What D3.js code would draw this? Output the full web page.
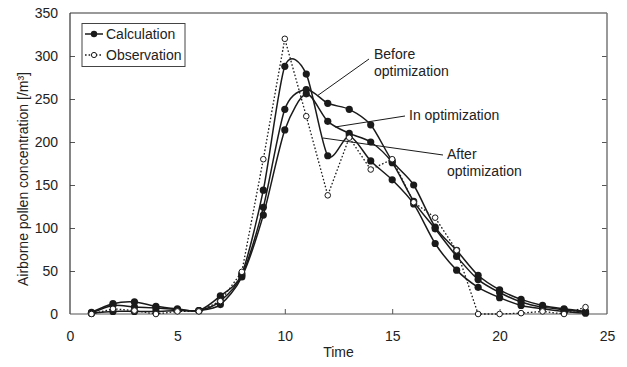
<!DOCTYPE html>
<html>
<head>
<meta charset="utf-8">
<script src="https://cdn.jsdelivr.net/npm/d3@7/dist/d3.min.js"></script>
<style>
  html, body { margin: 0; padding: 0; background: #fff; }
  svg { display: block; font-family: "Liberation Sans", Arial, Helvetica, sans-serif; }
</style>
</head>
<body>
<svg id="chart" width="627" height="367"></svg>
<script>
// Hourly airborne pollen: observed vs. three calculation runs
const time = [1,2,3,4,5,6,7,8,9,10,11,12,13,14,15,16,17,18,19,20,21,22,23,24];
const observation = [0,6,4,0,3,3,15,49,180,320,230,138,205,168,180,130,112,74,0,0,1,3,0,8];
const calcBefore = [1,10,8,7,5,4,15,45,124,238,261,245,238,220,178,150,101,74,45,28,17,10,6,3];
const calcIn     = [1,3,3,3,4,4,11,43,115,214,256,224,210,200,176,131,99,67,40,25,14,8,5,2];
const calcAfter  = [2,12,14,9,6,4,21,47,144,288,279,184,207,178,156,128,82,51,31,19,10,6,3,1];
const xTicks = [0,5,10,15,20,25];
const yTicks = [0,50,100,150,200,250,300,350];
const xTitle = "Time";
const yTitle = "Airborne pollen concentration [/m³]";
const legendLabels = ["Calculation", "Observation"];

const svg = d3.select("#chart");
const plotL = 70, plotR = 607, plotT = 13, plotB = 314;
const x = d3.scaleLinear().domain([0, 25]).range([plotL, plotR]);
const y = d3.scaleLinear().domain([0, 350]).range([plotB, plotT]);
const ink = "#1a1a1a";
const fs = 14;

// axes with inward ticks
const gx = svg.append("g").attr("transform", `translate(0,${plotB})`)
  .call(d3.axisBottom(x).tickValues(xTicks).tickSizeInner(-5).tickSizeOuter(0).tickPadding(17).tickFormat(d3.format("d")));
const gy = svg.append("g").attr("transform", `translate(${plotL},0)`)
  .call(d3.axisLeft(y).tickValues(yTicks).tickSizeInner(-5).tickSizeOuter(0).tickPadding(12));
const gr = svg.append("g").attr("transform", `translate(${plotR},0)`)
  .call(d3.axisRight(y).tickValues(yTicks.slice(1, -1)).tickSizeInner(-5).tickSizeOuter(0).tickFormat(""));
[gx, gy, gr].forEach(g => {
  g.select(".domain").remove();
  g.selectAll(".tick line").attr("stroke", "#555");
  g.selectAll("text").attr("fill", "#222").attr("font-size", fs).attr("font-family", "Liberation Sans, Arial, sans-serif");
});
gx.selectAll(".tick").filter(d => d === 0 || d === 25).select("line").remove();
gy.selectAll(".tick").filter(d => d === 0 || d === 350).select("line").remove();

// plot frame
svg.append("line").attr("x1", plotL).attr("x2", plotR).attr("y1", plotT).attr("y2", plotT).attr("stroke", "#777").attr("stroke-width", 1.5);
svg.append("line").attr("x1", plotR).attr("x2", plotR).attr("y1", plotT).attr("y2", plotB).attr("stroke", "#777").attr("stroke-width", 1.5);
svg.append("line").attr("x1", plotL).attr("x2", plotL).attr("y1", plotT).attr("y2", plotB).attr("stroke", "#333").attr("stroke-width", 1.2);
svg.append("line").attr("x1", plotL).attr("x2", plotR).attr("y1", plotB).attr("y2", plotB).attr("stroke", "#555").attr("stroke-width", 1.2);

// titles
svg.append("text").attr("x", (plotL + plotR) / 2).attr("y", 357).attr("text-anchor", "middle")
  .attr("font-size", fs).attr("fill", "#222").text(xTitle);
svg.append("text").attr("transform", "translate(28,179) rotate(-90)").attr("text-anchor", "middle")
  .attr("font-size", fs).attr("fill", "#222").text(yTitle);

// observation: dotted straight segments with open circles
const obsLine = d3.line().x((d, i) => x(time[i])).y(d => y(d));
svg.append("path").attr("d", obsLine(observation)).attr("fill", "none")
  .attr("stroke", ink).attr("stroke-width", 1.3).attr("stroke-dasharray", "1.6,2");

// calculations: smoothed lines with filled dots
const calcLine = d3.line().x((d, i) => x(time[i])).y(d => y(d)).curve(d3.curveCardinal.tension(0.2));
[calcBefore, calcIn, calcAfter].forEach(s => {
  svg.append("path").attr("d", calcLine(s)).attr("fill", "none").attr("stroke", ink).attr("stroke-width", 1.5);
});
[calcBefore, calcIn, calcAfter].forEach(s => {
  svg.append("g").selectAll("circle").data(s).join("circle")
    .attr("cx", (d, i) => x(time[i])).attr("cy", d => y(d)).attr("r", 3.6).attr("fill", ink);
});
svg.append("g").selectAll("circle").data(observation).join("circle")
  .attr("cx", (d, i) => x(time[i])).attr("cy", d => y(d)).attr("r", 2.8)
  .attr("fill", "#fff").attr("stroke", ink).attr("stroke-width", 1);

// annotations with leader lines
const notes = [
  { lines: ["Before", "optimization"], tx: 374, ty: 59, x1: 369, y1: 59, x2: 317, y2: 96 },
  { lines: ["In optimization"], tx: 409, ty: 120, x1: 405, y1: 116, x2: 335, y2: 127 },
  { lines: ["After", "optimization"], tx: 447, ty: 159, x1: 443, y1: 155, x2: 323, y2: 138 }
];
notes.forEach(n => {
  svg.append("line").attr("x1", n.x1).attr("y1", n.y1).attr("x2", n.x2).attr("y2", n.y2)
    .attr("stroke", ink).attr("stroke-width", 1);
  const t = svg.append("text").attr("x", n.tx).attr("y", n.ty).attr("font-size", fs).attr("fill", "#222");
  n.lines.forEach((l, i) => t.append("tspan").attr("x", n.tx).attr("dy", i === 0 ? 0 : 17).text(l));
});

// legend
const lg = svg.append("g");
lg.append("rect").attr("x", 82).attr("y", 23.5).attr("width", 103).attr("height", 43)
  .attr("fill", "#fff").attr("stroke", "#444").attr("stroke-width", 1);
[0, 1].forEach(i => {
  const cy = 34 + i * 21;
  lg.append("line").attr("x1", 85).attr("x2", 103).attr("y1", cy).attr("y2", cy)
    .attr("stroke", ink).attr("stroke-width", i === 0 ? 1.5 : 1.3).attr("stroke-dasharray", i === 0 ? null : "1.6,2");
  lg.append("circle").attr("cx", 94).attr("cy", cy).attr("r", i === 0 ? 3.2 : 2.6)
    .attr("fill", i === 0 ? ink : "#fff").attr("stroke", ink).attr("stroke-width", i === 0 ? 0 : 1);
  lg.append("text").attr("x", 106).attr("y", cy + 5).attr("font-size", fs).attr("fill", "#222").text(legendLabels[i]);
});
</script>
</body>
</html>
